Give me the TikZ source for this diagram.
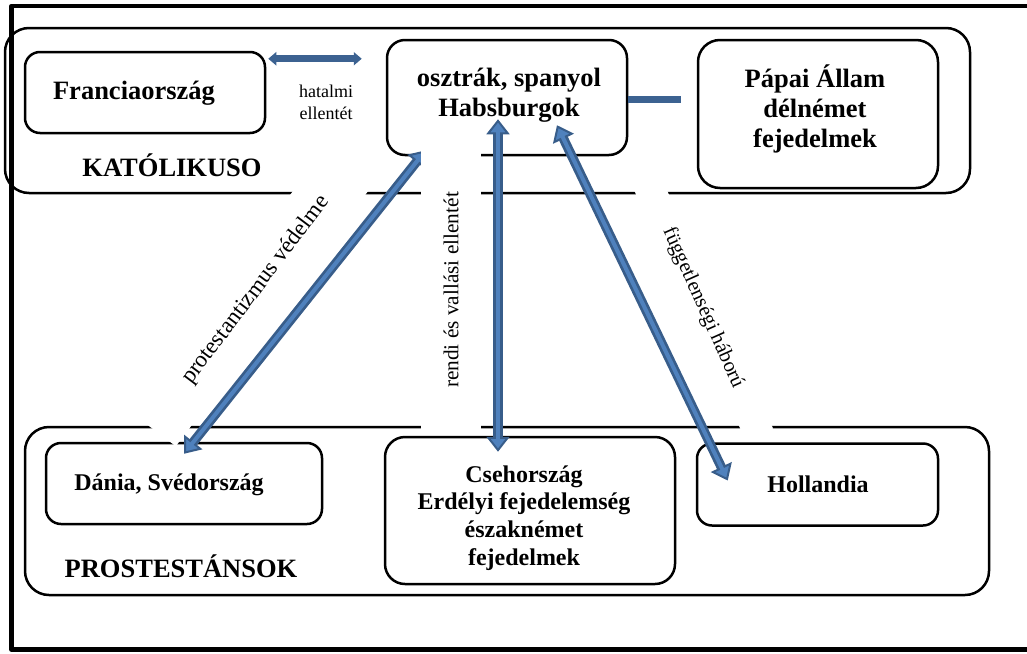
\documentclass[tikz,border=0pt]{standalone}
\usepackage{fontspec}
\setmainfont{Liberation Serif}
\usetikzlibrary{arrows.meta,positioning,shapes}

\definecolor{nyilkeret}{RGB}{56,93,138}
\definecolor{nyilbel}{RGB}{79,129,189}
\definecolor{vonalkek}{RGB}{60,98,145}

\begin{document}
\begin{tikzpicture}[
		x = 1pt, y = -1pt, % pixel grid, y down
		every node/.style = {inner sep = 0pt},
		line join = round
	]
	
	\tikzstyle{csoport}=[
	draw = black,
	line width = 2.5pt,
	rounded corners = 24pt
	]
	\tikzstyle{doboz}=[
	draw = black,
	line width = 2.5pt,
	rounded corners = 15pt
	]
	\tikzstyle{nagy}=[align = center, font = \fontsize{26.5}{30}\selectfont\bfseries]
	\tikzstyle{kisebb}=[align = center, font = \fontsize{24}{27.7}\selectfont\bfseries]
	\tikzstyle{cimke}=[fill = white, font = \fontsize{21.3}{24}\selectfont]
	\tikzstyle{konflikt}=[
	draw = nyilkeret,
	line width = 9.5pt,
	arrows = {Triangle[length=15pt,width=23pt,line width=2pt,fill=nyilbel]-Triangle[length=15pt,width=23pt,line width=2pt,fill=nyilbel]},
	postaction = {draw = nyilbel, line width = 4pt, -, shorten <= 8pt, shorten >= 8pt}
	]
	\tikzstyle{vetelkedes}=[
	draw = vonalkek,
	line width = 7pt,
	arrows = {Triangle[length=8pt,width=13pt]-Triangle[length=8pt,width=13pt]}
	]
	
	\useasboundingbox (0,0) rectangle (1027,653);
	
	% keret
	\draw[line width = 4.5pt] (1040,6) -- (11.5,6) -- (11.5,649.5) -- (1040,649.5);
	
	% csoportok
	\node[csoport, minimum width = 965pt, minimum height = 165pt] (kat) at (487.5,110.5) {};
	\node[csoport, minimum width = 964pt, minimum height = 168pt] (prot) at (507,511) {};
	\node[nagy] (katcim) at (172,165) {KATÓLIKUSO};
	\node[nagy] (protcim) at (181,566) {PROSTESTÁNSOK};
	
	% allamok
	\node[doboz, minimum width = 240pt, minimum height = 81pt] (fr) at (145,92.5) {};
	\node[doboz, rounded corners = 18pt, minimum width = 240pt, minimum height = 115pt] (habs) at (507,97.5) {};
	\node[doboz, rounded corners = 22pt, minimum width = 240pt, minimum height = 148pt] (papa) at (818,114) {};
	\node[doboz, minimum width = 276pt, minimum height = 81pt] (dan) at (184,483.5) {};
	\node[doboz, rounded corners = 20pt, minimum width = 290pt, minimum height = 147pt] (cseh) at (530,510.5) {};
	\node[doboz, minimum width = 241pt, minimum height = 82pt] (holl) at (817.5,484.5) {};
	
	\node[nagy] (frnev) at (134,93) {Franciaország};
	\node[nagy] (habsnev) at (509,95.5) {osztrák, spanyol\\Habsburgok};
	\node[nagy] (papanev) at (815,109) {Pápai Állam\\délnémet\\fejedelmek};
	\node[kisebb] (dannev) at (169,485) {Dánia, Svédország};
	\node[kisebb] (csehnev) at (524,518) {Csehország\\Erdélyi fejedelemség\\északnémet\\fejedelmek};
	\node[kisebb] (hollnev) at (818,484) {Hollandia};
	
	% ellentetek
	\node[cimke, font = \fontsize{23}{26}\selectfont, rotate = 53, minimum width = 346pt, minimum height = 60pt] (protved) at (256,290) {protestantizmus védelme};
	\draw[konflikt] ([xshift=40pt,yshift=6pt]habs.south west) -- ([yshift=-12pt]dan.north);
	
	\node[cimke, rotate = 90, minimum width = 284pt, minimum height = 60pt] (rendi) at (451,290) {rendi és vallási ellentét};
	\node[cimke, font = \fontsize{20.6}{24}\selectfont, rotate = -66, minimum width = 277pt, minimum height = 30pt] (fugg) at (703,308) {függetlenségi háború};
	
	\draw[konflikt] ([xshift=-32pt,yshift=-16pt]cseh.north) -- ([xshift=-9pt,yshift=37pt]habs.south);
	\draw[konflikt] ([xshift=50pt,yshift=31pt]habs.south) -- ([xshift=32pt,yshift=4pt]holl.west);
	
	\node[font = \fontsize{18}{22}\selectfont, align = center] (hatalmi) at (326,102) {hatalmi\\ellentét};
	\draw[vetelkedes] ([xshift=2pt,yshift=-8pt]fr.north east) -- ([xshift=-24pt,yshift=-20pt]habs.north west);
	
	\coordinate (papavege) at (681,99);
	\draw[draw = vonalkek, line width = 7pt] ([yshift=-1.5pt]habs.east) -- (papavege);
\end{tikzpicture}
\end{document}
